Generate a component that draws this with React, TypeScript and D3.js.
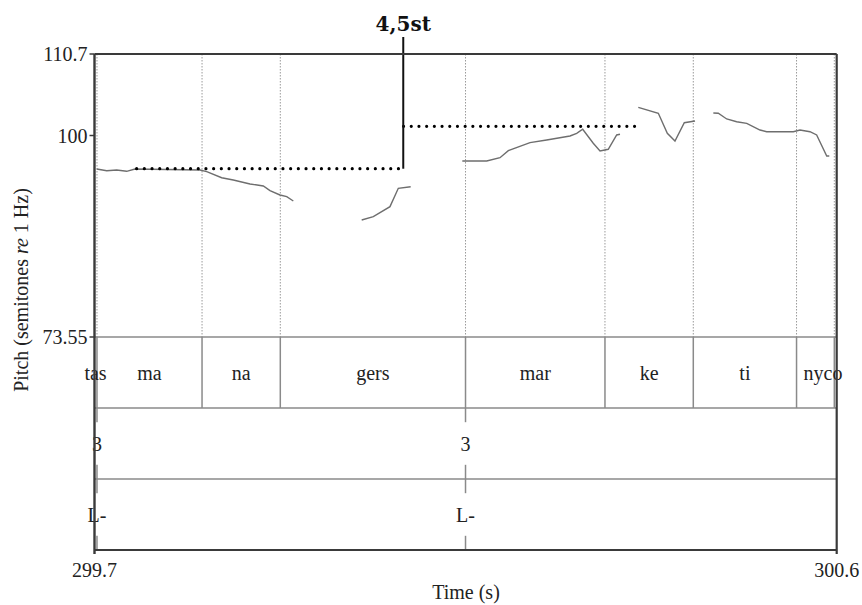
import React from "react";
import * as d3 from "d3";

// Axis domains and tick labels
const timeDomain = [299.7, 300.6];
const pitchDomain = [73.55, 110.7];
const pitchTicks = [110.7, 100, 73.55];
const timeTickLabels = ["299.7", "300.6"];

// Syllable tier: boundary times and labels placed at their interval centres
const syllableBounds = [299.703, 299.8304, 299.9253, 300.1499, 300.319, 300.4261, 300.5513, 300.5971];
const syllableLabels = ["tas", "ma", "na", "gers", "mar", "ke", "ti", "nyco"];
const syllableLabelTimes = [299.7012, 299.7667, 299.8779, 300.0376, 300.2345, 300.3726, 300.4887, 300.5834];

// Break-index and tone tiers (point tiers)
const breakTimes = [299.703, 300.1499];
const breakLabels = ["3", "3"];
const toneTimes = [299.703, 300.1499];
const toneLabels = ["L-", "L-"];

// Pitch contour, semitones re 1 Hz
const contour1: [number, number][] = [
  [299.7027, 95.6], [299.7148, 95.38], [299.7269, 95.47], [299.739, 95.3], [299.7491, 95.6],
  [299.8279, 95.47], [299.8361, 95.25], [299.8542, 94.46], [299.8683, 94.16], [299.8886, 93.64],
  [299.9047, 93.37], [299.9128, 92.76], [299.9249, 92.19], [299.9331, 91.97], [299.9411, 91.4],
];
const contour2: [number, number][] = [
  [300.024, 88.91], [300.0381, 89.34], [300.0583, 90.66], [300.0684, 93.07], [300.0834, 93.28],
];
const contour3: [number, number][] = [
  [300.146, 96.65], [300.1756, 96.65], [300.1917, 97.09], [300.2018, 98.01], [300.2281, 99.06],
  [300.2483, 99.41], [300.2766, 99.94], [300.2847, 100.29], [300.292, 100.82], [300.3048, 98.98],
  [300.313, 97.97], [300.323, 98.19], [300.3332, 100.07], [300.3372, 100.16],
];
const contour4: [number, number][] = [
  [300.3594, 103.7], [300.3837, 102.92], [300.3946, 100.29], [300.4039, 99.28], [300.4152, 101.68],
  [300.4282, 101.91],
];
const contour5: [number, number][] = [
  [300.4504, 102.96], [300.4564, 102.92], [300.4666, 102.17], [300.4787, 101.81], [300.4909, 101.6],
  [300.507, 100.72], [300.5151, 100.5], [300.5474, 100.5], [300.5555, 100.72], [300.5676, 100.5],
  [300.5757, 100.07], [300.5879, 97.31], [300.591, 97.31],
];
const contours = [contour1, contour2, contour3, contour4, contour5];

// Stylised pitch levels and the step between them
const levelStarts = [299.7511, 300.0744];
const levelEnds = [300.0744, 300.3563];
const levelValues = [95.64, 101.21];
const stepTime = 300.0744;
const stepLabel = "4,5st";

const W = 862;
const H = 605;
const left = 94.5;
const right = 836.7;
const pitchTop = 54;
const pitchBottom = 337;
const tierEdges = [337, 408, 479, 550];

const serif = "'Liberation Serif', 'Times New Roman', serif";
const frameColor = "#3a3a3a";
const gridColor = "#8a8a8a";

export default function App() {
  const x = d3.scaleLinear().domain(timeDomain).range([left, right]);
  const y = d3.scaleLinear().domain(pitchDomain).range([pitchBottom, pitchTop]);
  const line = d3
    .line<[number, number]>()
    .x((d) => x(d[0]))
    .y((d) => y(d[1]));

  const tierH = (i: number) => tierEdges[i + 1] - tierEdges[i];
  const tierMid = (i: number) => (tierEdges[i] + tierEdges[i + 1]) / 2;

  const pointTier = (times: number[], labels: string[], ti: number, key: string) =>
    times.map((t, i) => {
      const top = tierEdges[ti];
      const bot = tierEdges[ti + 1];
      const gap = tierH(ti) * 0.2;
      return (
        <g key={`${key}${i}`}>
          <line x1={x(t)} x2={x(t)} y1={top} y2={top + gap} stroke={gridColor} strokeWidth={1.5} />
          <line x1={x(t)} x2={x(t)} y1={bot - gap} y2={bot} stroke={gridColor} strokeWidth={1.5} />
          <text
            x={x(t)}
            y={tierMid(ti)}
            dy="0.35em"
            textAnchor="middle"
            fontFamily={serif}
            fontSize={20}
            fill="#222"
          >
            {labels[i]}
          </text>
        </g>
      );
    });

  return (
    <svg
      width={W}
      height={H}
      style={{ position: "absolute", left: 0, top: 0, background: "#fff" }}
    >
      <rect width={W} height={H} fill="#fff" />

      {/* dotted boundary guides across the pitch panel */}
      {syllableBounds.map((t, i) => (
        <line
          key={`g${i}`}
          x1={x(t)}
          x2={x(t)}
          y1={pitchTop}
          y2={pitchBottom}
          stroke="#9a9a9a"
          strokeWidth={1}
          strokeDasharray="1.5 1.5"
        />
      ))}

      {/* pitch contour */}
      {contours.map((c, i) => (
        <path key={`c${i}`} d={line(c) ?? ""} fill="none" stroke="#6e6e6e" strokeWidth={1.4} />
      ))}

      {/* stylised levels */}
      {levelValues.map((v, i) => (
        <line
          key={`l${i}`}
          x1={x(levelStarts[i])}
          x2={x(levelEnds[i])}
          y1={y(v)}
          y2={y(v)}
          stroke="#000"
          strokeWidth={3.2}
          strokeLinecap="round"
          strokeDasharray="0 7.7"
          strokeDashoffset={i === 1 ? -8 : 0}
        />
      ))}
      <line
        x1={x(stepTime)}
        x2={x(stepTime)}
        y1={y(levelValues[0])}
        y2={pitchTop - 17}
        stroke="#111"
        strokeWidth={2}
      />
      <text
        x={x(stepTime)}
        y={31}
        textAnchor="middle"
        fontFamily="'DejaVu Serif', serif"
        fontWeight="bold"
        fontSize={20}
        fill="#111"
      >
        {stepLabel}
      </text>

      {/* tier horizontal lines */}
      {tierEdges.slice(0, 3).map((yy, i) => (
        <line key={`t${i}`} x1={left} x2={right} y1={yy} y2={yy} stroke={gridColor} strokeWidth={1.5} />
      ))}

      {/* syllable boundaries */}
      {syllableBounds.map((t, i) => (
        <line
          key={`s${i}`}
          x1={x(t)}
          x2={x(t)}
          y1={tierEdges[0]}
          y2={tierEdges[1]}
          stroke={gridColor}
          strokeWidth={1.5}
        />
      ))}
      {syllableLabels.map((s, i) => (
        <text
          key={`sl${i}`}
          x={x(syllableLabelTimes[i])}
          y={tierMid(0)}
          dy="0.35em"
          textAnchor="middle"
          fontFamily={serif}
          fontSize={20}
          fill="#222"
        >
          {s}
        </text>
      ))}

      {pointTier(breakTimes, breakLabels, 1, "b")}
      {pointTier(toneTimes, toneLabels, 2, "tn")}

      {/* frame */}
      <line x1={left} x2={right} y1={pitchTop} y2={pitchTop} stroke={frameColor} strokeWidth={2} />
      <line x1={right} x2={right} y1={pitchTop} y2={tierEdges[3] + 4} stroke={frameColor} strokeWidth={2.2} />
      <line x1={left} x2={left} y1={pitchTop} y2={tierEdges[3] + 4} stroke={frameColor} strokeWidth={2.4} />
      <line x1={left} x2={right} y1={tierEdges[3]} y2={tierEdges[3]} stroke={frameColor} strokeWidth={2} />

      {/* pitch axis ticks */}
      {pitchTicks.map((v, i) => (
        <g key={`pt${i}`}>
          <line x1={left - 5} x2={left} y1={y(v)} y2={y(v)} stroke={frameColor} strokeWidth={1.5} />
          <text
            x={left - 7}
            y={y(v)}
            dy="0.35em"
            textAnchor="end"
            fontFamily={serif}
            fontSize={20}
            fill="#222"
          >
            {d3.format("")(v)}
          </text>
        </g>
      ))}

      {/* time axis labels */}
      {timeDomain.map((t, i) => (
        <text
          key={`tt${i}`}
          x={x(t)}
          y={577}
          textAnchor="middle"
          fontFamily={serif}
          fontSize={20}
          fill="#222"
        >
          {timeTickLabels[i]}
        </text>
      ))}
      <text x={466} y={599} textAnchor="middle" fontFamily={serif} fontSize={20} fill="#222">
        Time (s)
      </text>
      <text
        transform="translate(28, 290) rotate(-90)"
        textAnchor="middle"
        fontFamily={serif}
        fontSize={20}
        fill="#222"
      >
        Pitch (semitones <tspan fontStyle="italic">re</tspan> 1 Hz)
      </text>
    </svg>
  );
}
